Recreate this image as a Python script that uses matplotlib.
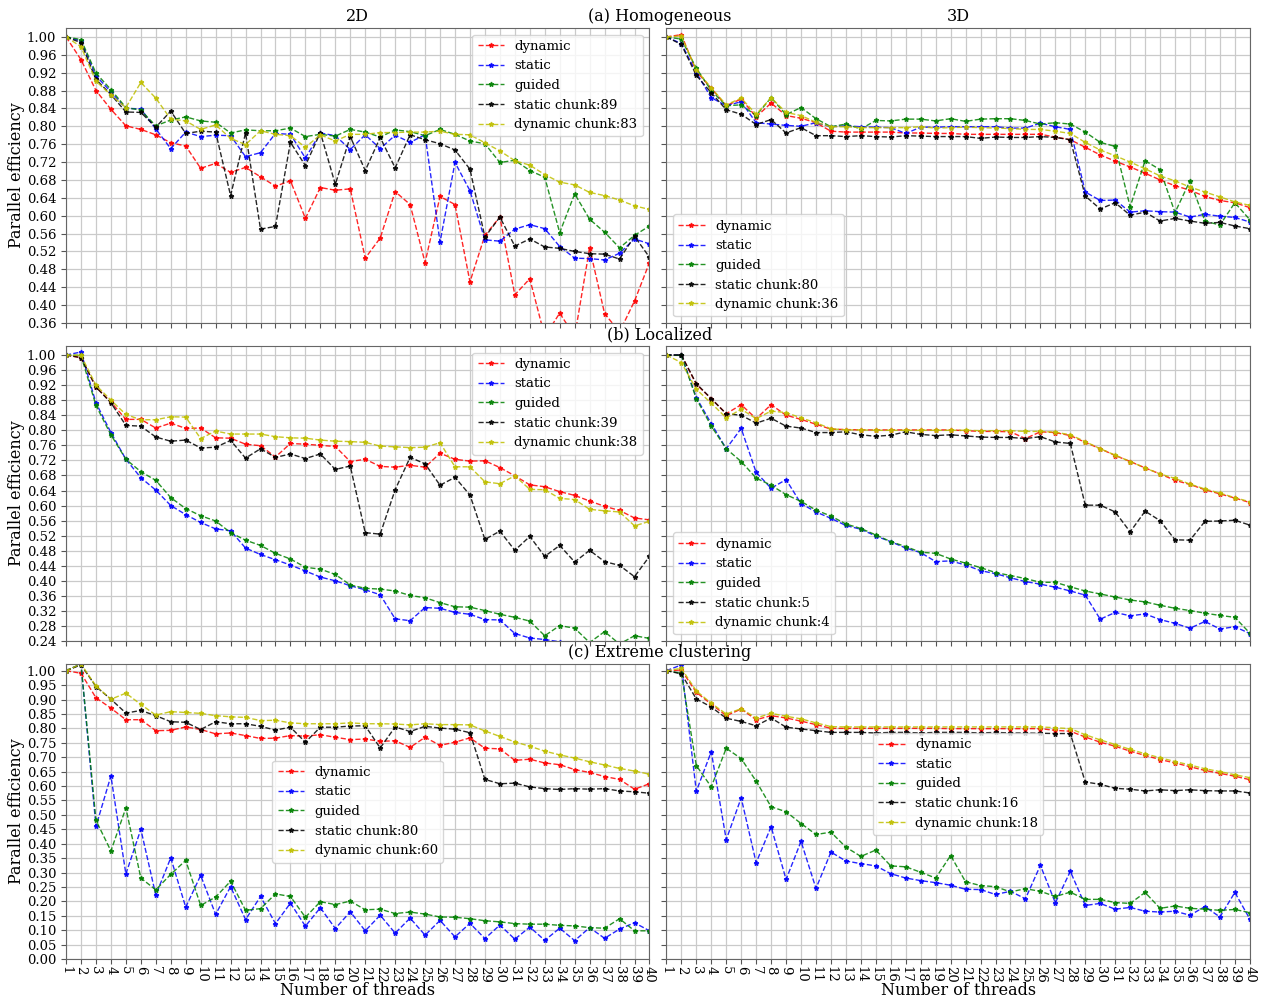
import matplotlib
matplotlib.use('Agg')
import matplotlib.pyplot as plt
import numpy as np

plt.rcParams['font.family'] = 'serif'
plt.rcParams['font.serif'] = ['DejaVu Serif']

threads = np.arange(1, 41)

# (a) Homogeneous, 2D
hom2d_dynamic = [1.00, 0.949, 0.880, 0.838, 0.801, 0.793, 0.781, 0.763, 0.756, 0.706,
                 0.717, 0.697, 0.708, 0.687, 0.666, 0.678, 0.594, 0.663, 0.657, 0.660,
                 0.505, 0.550, 0.654, 0.625, 0.495, 0.643, 0.625, 0.452, 0.556, 0.597,
                 0.423, 0.459, 0.33, 0.382, 0.33, 0.528, 0.381, 0.34, 0.409, 0.495]
hom2d_static = [1.00, 0.991, 0.913, 0.877, 0.840, 0.839, 0.794, 0.750, 0.787, 0.777,
                0.780, 0.779, 0.732, 0.741, 0.784, 0.782, 0.729, 0.785, 0.779, 0.748,
                0.781, 0.750, 0.780, 0.764, 0.781, 0.541, 0.719, 0.656, 0.546, 0.543,
                0.570, 0.580, 0.571, 0.531, 0.505, 0.504, 0.501, 0.516, 0.548, 0.537]
hom2d_guided = [1.00, 0.994, 0.919, 0.882, 0.842, 0.836, 0.801, 0.814, 0.821, 0.812,
                0.809, 0.785, 0.792, 0.790, 0.790, 0.796, 0.777, 0.782, 0.778, 0.793,
                0.787, 0.776, 0.792, 0.788, 0.779, 0.793, 0.782, 0.767, 0.761, 0.719,
                0.724, 0.701, 0.686, 0.562, 0.649, 0.592, 0.563, 0.528, 0.556, 0.577]
hom2d_static_chunk = [1.00, 0.987, 0.905, 0.871, 0.832, 0.831, 0.798, 0.834, 0.784, 0.789,
                      0.787, 0.645, 0.785, 0.570, 0.576, 0.764, 0.712, 0.786, 0.670, 0.777,
                      0.701, 0.775, 0.707, 0.781, 0.770, 0.761, 0.747, 0.704, 0.552, 0.597,
                      0.532, 0.548, 0.530, 0.527, 0.520, 0.515, 0.514, 0.503, 0.554, 0.507]
hom2d_dynamic_chunk = [1.00, 0.978, 0.901, 0.870, 0.842, 0.898, 0.863, 0.816, 0.812, 0.793,
                       0.803, 0.773, 0.759, 0.790, 0.782, 0.779, 0.753, 0.781, 0.767, 0.782,
                       0.782, 0.786, 0.786, 0.787, 0.787, 0.789, 0.782, 0.781, 0.763, 0.745,
                       0.723, 0.713, 0.692, 0.675, 0.669, 0.652, 0.645, 0.635, 0.622, 0.614]

# (a) Homogeneous, 3D
hom3d_dynamic = [1.00, 1.005, 0.923, 0.885, 0.846, 0.861, 0.821, 0.852, 0.824, 0.818,
                 0.808, 0.789, 0.787, 0.787, 0.787, 0.787, 0.785, 0.785, 0.784, 0.784,
                 0.782, 0.782, 0.782, 0.782, 0.782, 0.782, 0.776, 0.770, 0.753, 0.736,
                 0.722, 0.709, 0.695, 0.680, 0.667, 0.657, 0.643, 0.634, 0.629, 0.618]
hom3d_static = [1.00, 0.985, 0.920, 0.864, 0.846, 0.855, 0.808, 0.805, 0.802, 0.800,
                0.808, 0.799, 0.801, 0.799, 0.798, 0.797, 0.784, 0.798, 0.798, 0.799,
                0.799, 0.799, 0.799, 0.796, 0.796, 0.807, 0.799, 0.793, 0.653, 0.634,
                0.635, 0.608, 0.611, 0.609, 0.608, 0.597, 0.603, 0.599, 0.596, 0.586]
hom3d_guided = [1.00, 0.995, 0.930, 0.880, 0.846, 0.848, 0.824, 0.864, 0.826, 0.842,
                0.817, 0.799, 0.805, 0.794, 0.813, 0.812, 0.816, 0.816, 0.812, 0.817,
                0.811, 0.816, 0.817, 0.817, 0.813, 0.805, 0.808, 0.805, 0.787, 0.764,
                0.755, 0.620, 0.723, 0.703, 0.607, 0.678, 0.588, 0.579, 0.629, 0.591]
hom3d_static_chunk = [1.00, 0.983, 0.914, 0.875, 0.837, 0.827, 0.804, 0.815, 0.785, 0.797,
                      0.779, 0.779, 0.777, 0.779, 0.777, 0.776, 0.779, 0.778, 0.777, 0.777,
                      0.777, 0.773, 0.776, 0.775, 0.775, 0.777, 0.775, 0.770, 0.644, 0.615,
                      0.629, 0.601, 0.608, 0.588, 0.594, 0.588, 0.583, 0.585, 0.577, 0.571]
hom3d_dynamic_chunk = [1.00, 1.002, 0.926, 0.886, 0.848, 0.863, 0.827, 0.864, 0.831, 0.824,
                       0.809, 0.799, 0.799, 0.797, 0.797, 0.797, 0.797, 0.799, 0.796, 0.797,
                       0.798, 0.797, 0.796, 0.795, 0.793, 0.793, 0.789, 0.784, 0.764, 0.747,
                       0.734, 0.720, 0.705, 0.689, 0.678, 0.664, 0.653, 0.642, 0.631, 0.623]

# (b) Localized, 2D
loc2d_dynamic = [1.00, 0.993, 0.915, 0.875, 0.829, 0.829, 0.806, 0.819, 0.805, 0.806,
                 0.780, 0.779, 0.763, 0.759, 0.729, 0.765, 0.763, 0.760, 0.757, 0.717,
                 0.723, 0.704, 0.702, 0.707, 0.702, 0.739, 0.723, 0.718, 0.719, 0.701,
                 0.679, 0.655, 0.650, 0.637, 0.627, 0.612, 0.598, 0.587, 0.567, 0.562]
loc2d_static = [1.00, 1.008, 0.873, 0.794, 0.723, 0.674, 0.641, 0.600, 0.576, 0.555,
                0.538, 0.533, 0.487, 0.470, 0.456, 0.442, 0.426, 0.410, 0.400, 0.387,
                0.376, 0.363, 0.299, 0.294, 0.329, 0.327, 0.316, 0.311, 0.297, 0.296,
                0.260, 0.248, 0.244, 0.238, 0.232, 0.226, 0.229, 0.218, 0.222, 0.214]
loc2d_guided = [1.00, 0.999, 0.866, 0.788, 0.723, 0.690, 0.667, 0.621, 0.592, 0.573,
                0.559, 0.528, 0.508, 0.494, 0.473, 0.458, 0.436, 0.431, 0.417, 0.389,
                0.380, 0.378, 0.373, 0.361, 0.355, 0.342, 0.331, 0.330, 0.321, 0.311,
                0.303, 0.293, 0.254, 0.281, 0.274, 0.236, 0.265, 0.232, 0.254, 0.247]
loc2d_static_chunk = [1.00, 0.993, 0.915, 0.873, 0.813, 0.811, 0.782, 0.771, 0.774, 0.753,
                      0.755, 0.773, 0.726, 0.751, 0.728, 0.737, 0.725, 0.737, 0.696, 0.705,
                      0.528, 0.524, 0.642, 0.728, 0.711, 0.654, 0.675, 0.628, 0.510, 0.532,
                      0.481, 0.518, 0.465, 0.494, 0.450, 0.481, 0.451, 0.441, 0.411, 0.465]
loc2d_dynamic_chunk = [1.00, 0.999, 0.920, 0.880, 0.842, 0.828, 0.828, 0.836, 0.835, 0.778,
                       0.798, 0.790, 0.790, 0.790, 0.783, 0.780, 0.779, 0.774, 0.771, 0.770,
                       0.768, 0.758, 0.756, 0.754, 0.755, 0.767, 0.703, 0.703, 0.663, 0.658,
                       0.679, 0.643, 0.642, 0.619, 0.616, 0.590, 0.586, 0.583, 0.546, 0.558]

# (b) Localized, 3D
loc3d_dynamic = [1.00, 1.00, 0.922, 0.884, 0.844, 0.868, 0.831, 0.868, 0.840, 0.829,
                 0.816, 0.803, 0.802, 0.801, 0.801, 0.801, 0.801, 0.801, 0.801, 0.801,
                 0.799, 0.797, 0.797, 0.796, 0.778, 0.796, 0.794, 0.786, 0.768, 0.751,
                 0.733, 0.717, 0.700, 0.684, 0.667, 0.656, 0.642, 0.631, 0.620, 0.608]
loc3d_static = [1.00, 1.00, 0.887, 0.818, 0.751, 0.805, 0.688, 0.646, 0.669, 0.605,
                0.583, 0.566, 0.547, 0.537, 0.519, 0.504, 0.487, 0.475, 0.451, 0.453,
                0.442, 0.427, 0.419, 0.408, 0.398, 0.391, 0.383, 0.373, 0.362, 0.298,
                0.316, 0.307, 0.312, 0.297, 0.287, 0.274, 0.292, 0.272, 0.278, 0.260]
loc3d_guided = [1.00, 0.999, 0.884, 0.811, 0.751, 0.717, 0.673, 0.654, 0.629, 0.611,
                0.588, 0.572, 0.551, 0.539, 0.522, 0.504, 0.491, 0.476, 0.473, 0.458,
                0.447, 0.435, 0.422, 0.414, 0.406, 0.396, 0.396, 0.384, 0.373, 0.365,
                0.357, 0.349, 0.344, 0.335, 0.327, 0.321, 0.314, 0.308, 0.303, 0.261]
loc3d_static_chunk = [1.00, 1.00, 0.924, 0.884, 0.844, 0.840, 0.819, 0.832, 0.811, 0.806,
                      0.794, 0.794, 0.796, 0.788, 0.784, 0.787, 0.796, 0.789, 0.786, 0.788,
                      0.785, 0.782, 0.781, 0.781, 0.778, 0.783, 0.769, 0.765, 0.601, 0.601,
                      0.583, 0.530, 0.585, 0.560, 0.509, 0.508, 0.558, 0.559, 0.561, 0.548]
loc3d_dynamic_chunk = [1.00, 0.980, 0.909, 0.872, 0.833, 0.856, 0.831, 0.851, 0.847, 0.833,
                       0.820, 0.804, 0.801, 0.801, 0.800, 0.800, 0.800, 0.800, 0.800, 0.800,
                       0.800, 0.799, 0.799, 0.799, 0.797, 0.797, 0.795, 0.788, 0.770, 0.751,
                       0.734, 0.717, 0.700, 0.684, 0.672, 0.657, 0.644, 0.633, 0.621, 0.610]

# (c) Extreme clustering, 2D
ext2d_dynamic = [1.00, 0.991, 0.906, 0.870, 0.830, 0.830, 0.792, 0.793, 0.805, 0.796,
                 0.781, 0.784, 0.775, 0.765, 0.766, 0.775, 0.773, 0.778, 0.769, 0.761,
                 0.763, 0.755, 0.757, 0.734, 0.769, 0.741, 0.752, 0.767, 0.731, 0.729,
                 0.689, 0.693, 0.680, 0.674, 0.657, 0.647, 0.633, 0.623, 0.589, 0.608]
ext2d_static = [1.00, 1.023, 0.460, 0.635, 0.295, 0.450, 0.222, 0.351, 0.180, 0.290,
                0.155, 0.251, 0.137, 0.217, 0.123, 0.194, 0.114, 0.178, 0.106, 0.164,
                0.098, 0.152, 0.090, 0.142, 0.083, 0.134, 0.077, 0.124, 0.071, 0.118,
                0.069, 0.111, 0.065, 0.107, 0.064, 0.109, 0.072, 0.104, 0.126, 0.098]
ext2d_guided = [1.00, 1.023, 0.481, 0.375, 0.524, 0.281, 0.240, 0.294, 0.342, 0.186,
                0.215, 0.270, 0.169, 0.175, 0.226, 0.217, 0.145, 0.199, 0.189, 0.201,
                0.171, 0.173, 0.158, 0.163, 0.156, 0.146, 0.145, 0.140, 0.133, 0.129,
                0.123, 0.121, 0.121, 0.117, 0.115, 0.109, 0.107, 0.140, 0.098, 0.098]
ext2d_static_chunk = [1.00, 1.020, 0.945, 0.901, 0.853, 0.862, 0.844, 0.823, 0.821, 0.796,
                      0.823, 0.816, 0.816, 0.807, 0.794, 0.804, 0.752, 0.804, 0.804, 0.808,
                      0.809, 0.732, 0.805, 0.789, 0.807, 0.801, 0.797, 0.785, 0.623, 0.608,
                      0.610, 0.597, 0.591, 0.588, 0.591, 0.589, 0.591, 0.583, 0.580, 0.575]
ext2d_dynamic_chunk = [1.00, 1.023, 0.947, 0.901, 0.922, 0.883, 0.846, 0.858, 0.855, 0.852,
                       0.844, 0.840, 0.838, 0.827, 0.828, 0.819, 0.816, 0.816, 0.816, 0.819,
                       0.816, 0.816, 0.815, 0.812, 0.816, 0.813, 0.813, 0.812, 0.791, 0.772,
                       0.753, 0.738, 0.721, 0.708, 0.697, 0.684, 0.673, 0.661, 0.652, 0.641]

# (c) Extreme clustering, 3D
ext3d_dynamic = [1.00, 1.002, 0.925, 0.884, 0.844, 0.867, 0.830, 0.844, 0.836, 0.825,
                 0.813, 0.800, 0.800, 0.800, 0.800, 0.800, 0.800, 0.800, 0.800, 0.799,
                 0.799, 0.799, 0.799, 0.799, 0.799, 0.799, 0.793, 0.790, 0.770, 0.752,
                 0.738, 0.721, 0.706, 0.692, 0.680, 0.667, 0.654, 0.644, 0.634, 0.622]
ext3d_static = [1.00, 1.020, 0.582, 0.719, 0.414, 0.559, 0.334, 0.459, 0.276, 0.408,
                0.245, 0.371, 0.340, 0.331, 0.323, 0.296, 0.281, 0.272, 0.265, 0.256,
                0.242, 0.241, 0.224, 0.235, 0.209, 0.325, 0.195, 0.304, 0.186, 0.193,
                0.173, 0.179, 0.166, 0.163, 0.166, 0.152, 0.182, 0.146, 0.231, 0.139]
ext3d_guided = [1.00, 0.991, 0.671, 0.597, 0.731, 0.695, 0.617, 0.528, 0.511, 0.470,
                0.432, 0.440, 0.388, 0.356, 0.378, 0.323, 0.320, 0.301, 0.281, 0.359,
                0.268, 0.255, 0.251, 0.233, 0.244, 0.235, 0.217, 0.232, 0.207, 0.207,
                0.196, 0.193, 0.231, 0.176, 0.184, 0.176, 0.173, 0.169, 0.172, 0.161]
ext3d_static_chunk = [1.00, 0.989, 0.902, 0.874, 0.835, 0.824, 0.809, 0.836, 0.804, 0.798,
                      0.792, 0.786, 0.786, 0.786, 0.784, 0.786, 0.786, 0.784, 0.786, 0.786,
                      0.786, 0.784, 0.786, 0.784, 0.784, 0.783, 0.782, 0.782, 0.614, 0.606,
                      0.592, 0.589, 0.583, 0.587, 0.584, 0.587, 0.584, 0.583, 0.583, 0.576]
ext3d_dynamic_chunk = [1.00, 1.008, 0.930, 0.887, 0.850, 0.868, 0.836, 0.852, 0.842, 0.833,
                       0.819, 0.806, 0.805, 0.805, 0.805, 0.805, 0.805, 0.805, 0.805, 0.805,
                       0.805, 0.805, 0.805, 0.805, 0.805, 0.805, 0.802, 0.799, 0.778, 0.760,
                       0.744, 0.727, 0.712, 0.698, 0.685, 0.673, 0.660, 0.650, 0.639, 0.629]

chunk_sizes = [[89, 83, 80, 36], [39, 38, 5, 4], [80, 60, 16, 18]]

panels = [
    [[hom2d_dynamic, hom2d_static, hom2d_guided, hom2d_static_chunk, hom2d_dynamic_chunk],
     [hom3d_dynamic, hom3d_static, hom3d_guided, hom3d_static_chunk, hom3d_dynamic_chunk]],
    [[loc2d_dynamic, loc2d_static, loc2d_guided, loc2d_static_chunk, loc2d_dynamic_chunk],
     [loc3d_dynamic, loc3d_static, loc3d_guided, loc3d_static_chunk, loc3d_dynamic_chunk]],
    [[ext2d_dynamic, ext2d_static, ext2d_guided, ext2d_static_chunk, ext2d_dynamic_chunk],
     [ext3d_dynamic, ext3d_static, ext3d_guided, ext3d_static_chunk, ext3d_dynamic_chunk]],
]
row_titles = ['(a) Homogeneous', '(b) Localized', '(c) Extreme clustering']
row_ylims = [(0.36, 1.02), (0.24, 1.024), (0.0, 1.023)]
row_yticks = [np.arange(0.36, 1.001, 0.04), np.arange(0.24, 1.001, 0.04), np.arange(0.0, 1.001, 0.05)]
legend_locs = [['upper right', 'lower left'], ['upper right', 'lower left'],
               [('center', (0.5, 0.5)), ('center', (0.5, 0.594))]]
colors = ['r', 'b', 'g', 'k', 'y']

fig, axes = plt.subplots(3, 2, figsize=(12.65, 9.98), dpi=100, sharex=True, sharey='row')
fig.subplots_adjust(left=0.0522, right=0.988, bottom=0.039, top=0.972, wspace=0.029, hspace=0.078)

for r in range(3):
    for c in range(2):
        ax = axes[r, c]
        series = panels[r][c]
        sc, dc = chunk_sizes[r][2 * c], chunk_sizes[r][2 * c + 1]
        labels = ['dynamic', 'static', 'guided', 'static chunk:%d' % sc, 'dynamic chunk:%d' % dc]
        for vals, col, lab in zip(series, colors, labels):
            ax.plot(threads, vals, color=col, linestyle='--', linewidth=1.0, marker='*',
                    markersize=3.5, alpha=0.85, label=lab)
        ax.set_xlim(1, 40)
        ax.set_ylim(*row_ylims[r])
        ax.set_yticks(row_yticks[r])
        ax.yaxis.set_major_formatter(plt.FormatStrFormatter('%.2f'))
        ax.set_xticks(threads)
        ax.grid(True, color='#cacaca', linewidth=0.9)
        ax.set_axisbelow(True)
        for sp in ax.spines.values():
            sp.set_color('#666666')
        ax.tick_params(labelsize=9.5, color='#555555')
        ax.tick_params(axis='x', pad=1.5)
        loc = legend_locs[r][c]
        if isinstance(loc, tuple):
            ax.legend(loc=loc[0], bbox_to_anchor=loc[1], fontsize=9.5)
        else:
            ax.legend(loc=loc, fontsize=9.5)
        if c == 0:
            ax.set_ylabel('Parallel efficiency', fontsize=11.5, labelpad=1)
        if r == 2:
            ax.set_xlabel('Number of threads', fontsize=11.5, labelpad=-1)
            for lbl in ax.get_xticklabels():
                lbl.set_rotation(270)
                lbl.set_fontsize(9.5)

for r, title in enumerate(row_titles):
    top = axes[r, 0].get_position().y1
    fig.text(0.5215, top + 0.003, title, ha='center', va='bottom', fontsize=11.5)

top = axes[0, 0].get_position()
fig.text((top.x0 + top.x1) / 2, top.y1 + 0.003, '2D', ha='center', va='bottom', fontsize=11.5)
top = axes[0, 1].get_position()
fig.text((top.x0 + top.x1) / 2, top.y1 + 0.003, '3D', ha='center', va='bottom', fontsize=11.5)

fig.savefig('out.png', dpi=100)
